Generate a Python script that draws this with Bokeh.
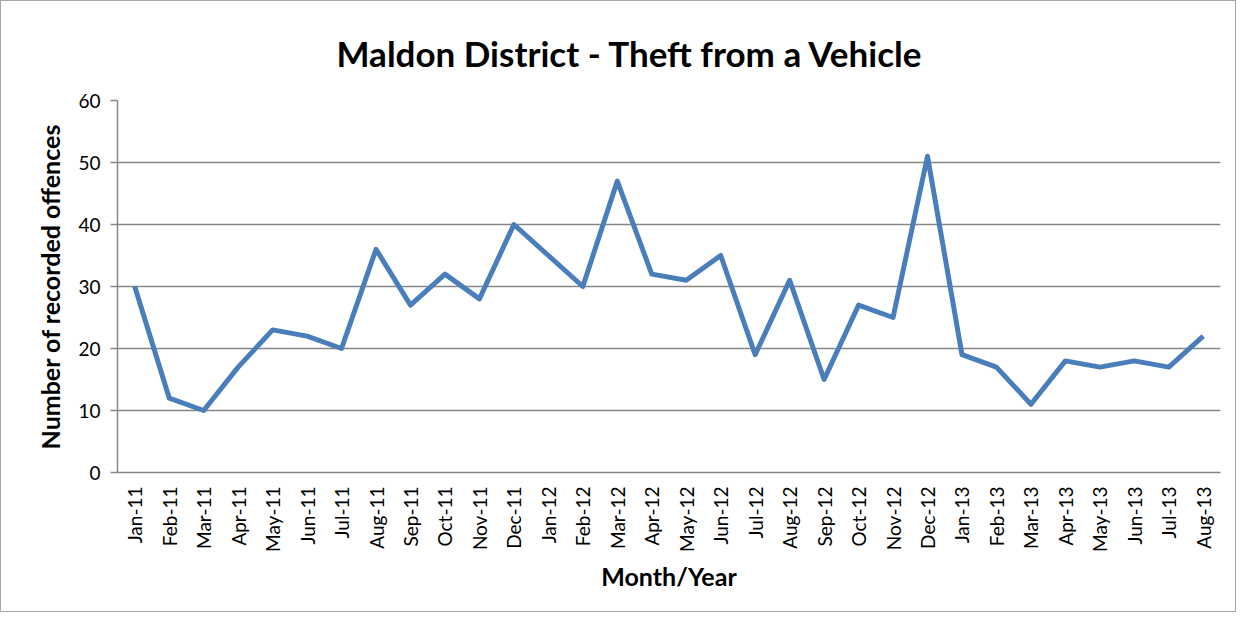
from bokeh.plotting import figure
from bokeh.models import FactorRange, Range1d, FixedTicker
from bokeh.embed import file_html
from bokeh.resources import INLINE

months = ["Jan-11", "Feb-11", "Mar-11", "Apr-11", "May-11", "Jun-11", "Jul-11", "Aug-11",
          "Sep-11", "Oct-11", "Nov-11", "Dec-11", "Jan-12", "Feb-12", "Mar-12", "Apr-12",
          "May-12", "Jun-12", "Jul-12", "Aug-12", "Sep-12", "Oct-12", "Nov-12", "Dec-12",
          "Jan-13", "Feb-13", "Mar-13", "Apr-13", "May-13", "Jun-13", "Jul-13", "Aug-13"]
offences = [30, 12, 10, 17, 23, 22, 20, 36, 27, 32, 28, 40, 35, 30, 47, 32,
            31, 35, 19, 31, 15, 27, 25, 51, 19, 17, 11, 18, 17, 18, 17, 22]
y_ticks = [0, 10, 20, 30, 40, 50, 60]

FONT = "Lato"
GRID = "#868686"

p = figure(width=1236, height=612, x_range=FactorRange(*months), y_range=Range1d(0, 60),
           output_backend="svg", toolbar_location=None,
           min_border_left=116, min_border_right=17, min_border_top=99, min_border_bottom=141)
p.styles = {"border": "1px solid #a6a6a6"}
p.outline_line_color = None
p.background_fill_color = "white"
p.border_fill_color = "white"

p.title.text = "Maldon District - Theft from a Vehicle"
p.title.text_font = FONT
p.title.text_font_size = "35px"
p.title.text_font_style = "bold"
p.title.text_color = "black"
p.title.align = "left"
p.title.offset = 219
p.title.standoff = 54

p.line(x=months, y=offences, line_color="#4A7EBB", line_width=5, line_join="round")

p.xgrid.grid_line_color = None
p.ygrid.grid_line_color = GRID
p.ygrid.grid_line_width = 1.5

p.yaxis.ticker = FixedTicker(ticks=y_ticks)
p.yaxis.minor_tick_line_color = None
p.yaxis.major_tick_in = 0
p.yaxis.major_tick_out = 7
p.yaxis.major_tick_line_color = GRID
p.yaxis.major_tick_line_width = 1.5
p.yaxis.axis_line_color = GRID
p.yaxis.axis_line_width = 1.5
p.yaxis.major_label_text_font = FONT
p.yaxis.major_label_text_font_size = "19px"
p.yaxis.major_label_text_color = "black"
p.yaxis.major_label_standoff = 10
p.yaxis.axis_label = "Number of recorded offences"
p.yaxis.axis_label_text_font = FONT
p.yaxis.axis_label_text_font_size = "25px"
p.yaxis.axis_label_text_font_style = "bold"
p.yaxis.axis_label_text_color = "black"
p.yaxis.axis_label_standoff = 10

p.xaxis.major_label_orientation = 1.5708
p.xaxis.major_tick_in = 0
p.xaxis.major_tick_out = 0
p.xaxis.axis_line_color = GRID
p.xaxis.axis_line_width = 1.5
p.xaxis.major_label_text_font = FONT
p.xaxis.major_label_text_font_size = "19px"
p.xaxis.major_label_text_color = "black"
p.xaxis.major_label_standoff = 14
p.xaxis.axis_label = "Month/Year"
p.xaxis.axis_label_text_font = FONT
p.xaxis.axis_label_text_font_size = "25px"
p.xaxis.axis_label_text_font_style = "bold"
p.xaxis.axis_label_text_color = "black"
p.xaxis.axis_label_standoff = 6

open("out.html", "w").write(file_html(p, INLINE))
